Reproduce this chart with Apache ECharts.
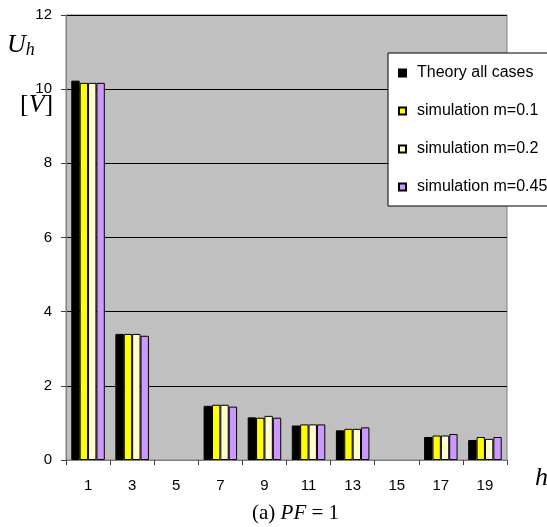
<!DOCTYPE html>
<html>
<head>
<meta charset="utf-8">
<script src="https://cdn.jsdelivr.net/npm/echarts@6/dist/echarts.min.js"></script>
<style>
html,body{margin:0;padding:0;background:#fff;}
#chart{width:547px;height:527px;}
</style>
</head>
<body>
<div id="chart"></div>
<script>
const harmonics = ['1','3','5','7','9','11','13','15','17','19'];
const theory = [10.23, 3.40, null, 1.46, 1.15, 0.93, 0.80, null, 0.62, 0.54];
const simM01 = [10.17, 3.40, null, 1.49, 1.14, 0.96, 0.84, null, 0.66, 0.62];
const simM02 = [10.17, 3.40, null, 1.49, 1.19, 0.96, 0.84, null, 0.66, 0.57];
const simM045 = [10.17, 3.35, null, 1.44, 1.14, 0.96, 0.88, null, 0.70, 0.62];
const yTicks = [0, 2, 4, 6, 8, 10, 12];
const seriesNames = ['Theory all cases', 'simulation m=0.1', 'simulation m=0.2', 'simulation m=0.45'];
const seriesColors = ['#000000', '#FFFF00', '#FFFFCC', '#CC99FF'];

const sans = 'Arial, "Liberation Sans", sans-serif';
const serif = '"Times New Roman", "Liberation Serif", serif';
const allData = [theory, simM01, simM02, simM045];

const chart = echarts.init(document.getElementById('chart'));
chart.setOption({
  animation: false,
  backgroundColor: '#ffffff',
  grid: {
    left: 66, right: 40, top: 15, bottom: 67,
    show: true, backgroundColor: '#C0C0C0', borderColor: '#808080', borderWidth: 1
  },
  legend: {
    orient: 'vertical',
    left: 388, top: 53,
    padding: [12, 60, 11, 10],
    backgroundColor: '#ffffff',
    borderColor: '#000000', borderWidth: 1,
    itemWidth: 7, itemHeight: 7, itemGap: 22,
    icon: 'rect',
    textStyle: { fontFamily: sans, fontSize: 16, color: '#000', lineHeight: 16, padding: [0,0,0,6] },
    data: seriesNames
  },
  xAxis: {
    type: 'category',
    data: harmonics,
    boundaryGap: true,
    axisLine: { lineStyle: { color: '#808080', width: 1 } },
    axisTick: { show: true, length: 5, lineStyle: { color: '#404040' } },
    axisLabel: { fontFamily: sans, fontSize: 15, color: '#000', margin: 18 },
    splitLine: { show: false }
  },
  yAxis: {
    type: 'value',
    min: yTicks[0], max: yTicks[yTicks.length - 1], interval: yTicks[1] - yTicks[0],
    axisLine: { show: true, lineStyle: { color: '#808080', width: 1 } },
    axisTick: { show: true, length: 5, lineStyle: { color: '#404040' } },
    axisLabel: { fontFamily: sans, fontSize: 15, color: '#000', margin: 14 },
    splitLine: { show: true, lineStyle: { color: '#000', width: 1 } }
  },
  series: allData.map((d, i) => ({
    name: seriesNames[i],
    type: 'bar',
    data: d,
    barGap: '0%',
    barCategoryGap: '24%',
    itemStyle: { color: seriesColors[i], borderColor: '#000', borderWidth: 1 }
  })),
  graphic: [
    {
      type: 'text', left: 7, top: 32,
      style: {
        text: '{u|U}{s|h}',
        rich: {
          u: { fontFamily: serif, fontStyle: 'italic', fontSize: 26, fill: '#000' },
          s: { fontFamily: serif, fontStyle: 'italic', fontSize: 18, fill: '#000', padding: [10, 0, 0, 0] }
        }
      }
    },
    {
      type: 'text', left: 20, top: 92,
      style: {
        text: '{n|[}{i|V}{n|]}',
        rich: {
          n: { fontFamily: serif, fontSize: 26, fill: '#000' },
          i: { fontFamily: serif, fontStyle: 'italic', fontSize: 26, fill: '#000' }
        }
      }
    },
    {
      type: 'text', left: 535, top: 465,
      style: { text: 'h', fontFamily: serif, fontStyle: 'italic', fontSize: 26, fill: '#000' }
    },
    {
      type: 'text', left: 252, top: 503,
      style: {
        text: '{n|(a) }{i|PF}{n| = 1}',
        rich: {
          n: { fontFamily: serif, fontSize: 21, fill: '#000' },
          i: { fontFamily: serif, fontStyle: 'italic', fontSize: 21, fill: '#000' }
        }
      }
    }
  ]
});
</script>
</body>
</html>
